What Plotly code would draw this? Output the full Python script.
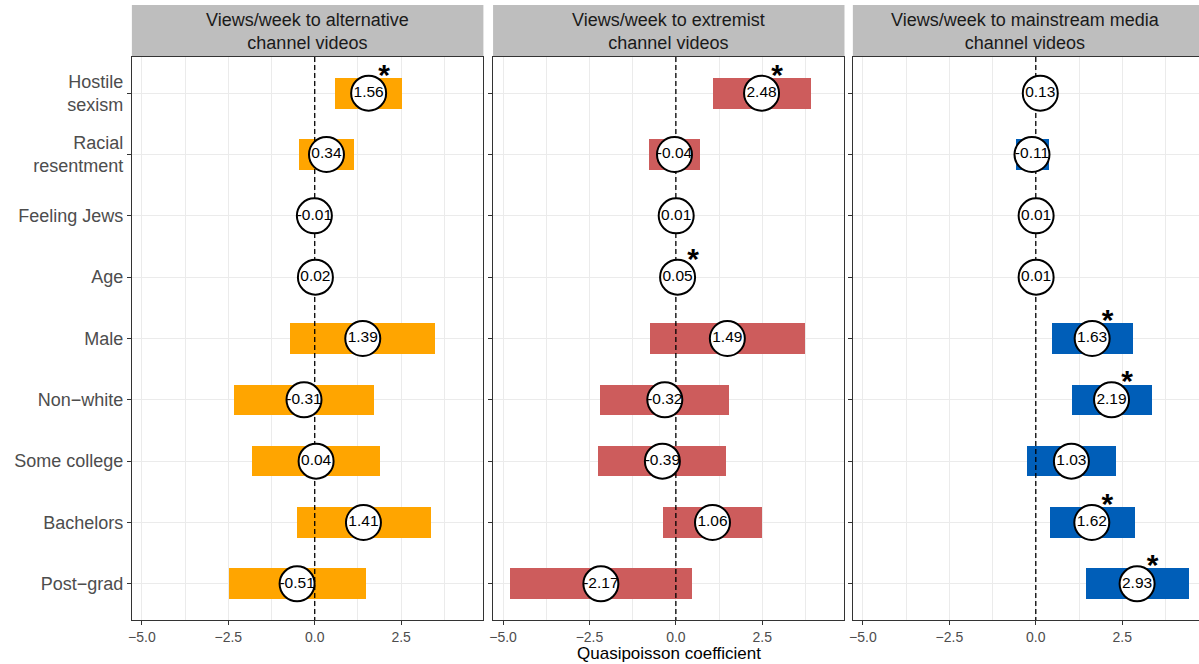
import plotly.graph_objects as go

# ---------------- data ----------------
categories = ["Hostile<br>sexism", "Racial<br>resentment", "Feeling Jews", "Age", "Male",
              "Non−white", "Some college", "Bachelors", "Post−grad"]

panel_titles = ["Views/week to alternative<br>channel videos",
                "Views/week to extremist<br>channel videos",
                "Views/week to mainstream media<br>channel videos"]
panel_colors = ["#FFA500", "#CD5C5C", "#005EB8"]

coef_alt = [1.56, 0.34, -0.01, 0.02, 1.39, -0.31, 0.04, 1.41, -0.51]
lo_alt = [0.59, -0.46, -0.03, 0.01, -0.71, -2.33, -1.81, -0.53, -2.49]
hi_alt = [2.53, 1.14, 0.01, 0.03, 3.49, 1.70, 1.89, 3.35, 1.48]
sig_alt = [1, 0, 0, 0, 0, 0, 0, 0, 0]

coef_ext = [2.48, -0.04, 0.01, 0.05, 1.49, -0.32, -0.39, 1.06, -2.17]
lo_ext = [1.07, -0.78, -0.01, 0.04, -0.75, -2.19, -2.25, -0.38, -4.81]
hi_ext = [3.90, 0.71, 0.03, 0.06, 3.74, 1.55, 1.46, 2.50, 0.48]
sig_ext = [1, 0, 0, 1, 0, 0, 0, 0, 0]

coef_main = [0.13, -0.11, 0.01, 0.01, 1.63, 2.19, 1.03, 1.62, 2.93]
lo_main = [-0.10, -0.58, -0.01, 0.00, 0.46, 1.04, -0.27, 0.40, 1.45]
hi_main = [0.36, 0.39, 0.03, 0.02, 2.81, 3.36, 2.32, 2.86, 4.43]
sig_main = [0, 0, 0, 0, 1, 1, 0, 1, 1]

x_ticks = [-5.0, -2.5, 0.0, 2.5]
x_title = "Quasipoisson coefficient"

panels = [
    (coef_alt, lo_alt, hi_alt, sig_alt),
    (coef_ext, lo_ext, hi_ext, sig_ext),
    (coef_main, lo_main, hi_main, sig_main),
]

# ---------------- layout geometry ----------------
W, H = 1199, 664
FONT = "Liberation Sans, Arial, sans-serif"
px_x = [(128.3, 481.0), (490.7, 843.3), (851.7, 1199.0)]
x_ranges = [[-5.29, 4.88], [-5.29, 4.88], [-5.29, 4.72]]
plot_top, plot_bot = 57.0, 620.0
strip_top = 5.0
ypos = list(range(len(categories)))
y_range = [len(categories) - 1 + 0.59, -0.59]

fig = go.Figure()

for i, (coef, lo, hi, sig) in enumerate(panels):
    xa = "x" if i == 0 else f"x{i+1}"
    ya = "y" if i == 0 else f"y{i+1}"
    # CI bars
    fig.add_trace(go.Bar(
        x=[h - l for l, h in zip(lo, hi)], base=lo, y=ypos, orientation="h",
        width=0.5, marker=dict(color=panel_colors[i], line=dict(width=0)),
        xaxis=xa, yaxis=ya, showlegend=False, hoverinfo="skip"))
    # zero reference line
    fig.add_trace(go.Scatter(
        x=[0, 0], y=[y_range[1], y_range[0]], mode="lines",
        line=dict(color="black", width=1.3, dash="5px,3px"),
        xaxis=xa, yaxis=ya, showlegend=False, hoverinfo="skip"))
    # circles with labels
    fig.add_trace(go.Scatter(
        x=coef, y=ypos, mode="markers+text",
        marker=dict(size=35, color="white", line=dict(color="black", width=2)),
        text=[f"{v:.2f}" for v in coef], textposition="middle center",
        textfont=dict(family=FONT, size=15.5, color="black"),
        xaxis=xa, yaxis=ya, showlegend=False, hoverinfo="skip"))
    # significance stars
    sx = [c + 0.45 for c, s in zip(coef, sig) if s]
    sy = [p - 0.26 for p, s in zip(ypos, sig) if s]
    fig.add_trace(go.Scatter(
        x=sx, y=sy, mode="text", text=["<b>*</b>"] * len(sx), textposition="middle center",
        textfont=dict(family=FONT, size=30, color="black"),
        xaxis=xa, yaxis=ya, showlegend=False, hoverinfo="skip"))

    x0, x1 = px_x[i]
    dom_x = [x0 / W, x1 / W]
    dom_y = [(H - plot_bot) / H, (H - plot_top) / H]
    fig.update_layout(**{
        ("xaxis" if i == 0 else f"xaxis{i+1}"): dict(
            domain=dom_x, anchor=ya, range=x_ranges[i], tickvals=x_ticks,
            tickformat=".1f", showgrid=True, gridcolor="#EBEBEB", gridwidth=1.1,
            minor=dict(dtick=1.25, tick0=0, showgrid=True, gridcolor="#EBEBEB", gridwidth=0.6),
            zeroline=False, showline=True, linecolor="#333333", linewidth=1.1, mirror=True,
            ticks="outside", ticklen=4, tickcolor="#333333", tickwidth=1,
            tickfont=dict(family=FONT, size=14, color="#4D4D4D"), fixedrange=True),
        ("yaxis" if i == 0 else f"yaxis{i+1}"): dict(
            domain=dom_y, anchor=xa, range=y_range, tickvals=ypos, ticktext=categories,
            showticklabels=(i == 0), showgrid=True, gridcolor="#EBEBEB", gridwidth=1.1,
            zeroline=False, showline=True, linecolor="#333333", linewidth=1.1,
            mirror=(i < 2), ticks="outside", ticklen=4, tickcolor="#333333", tickwidth=1,
            tickfont=dict(family=FONT, size=18, color="#4D4D4D"), fixedrange=True),
    })
    # strip header
    fig.add_shape(type="rect", xref="paper", yref="paper",
                  x0=dom_x[0], x1=dom_x[1], y0=(H - plot_top) / H, y1=(H - strip_top) / H,
                  fillcolor="#BEBEBE", line=dict(width=0), layer="below")
    fig.add_annotation(x=(dom_x[0] + dom_x[1]) / 2, y=(H - (strip_top + plot_top) / 2) / H,
                       xref="paper", yref="paper", text=panel_titles[i], showarrow=False,
                       xanchor="center", yanchor="middle",
                       font=dict(family=FONT, size=18, color="#1A1A1A"))

fig.add_annotation(x=(px_x[1][0] + px_x[1][1]) / 2 / W, y=(H - 653) / H, xref="paper", yref="paper",
                   text=x_title, showarrow=False, xanchor="center", yanchor="middle",
                   font=dict(family=FONT, size=17, color="black"))

fig.update_layout(width=W, height=H, margin=dict(l=0, r=0, t=0, b=0),
                  paper_bgcolor="white", plot_bgcolor="white", bargap=0,
                  font=dict(family=FONT))

fig.write_html("out.html", config={"displayModeBar": False},
               post_script="document.body.style.margin='0px';document.body.style.overflow='hidden';")
